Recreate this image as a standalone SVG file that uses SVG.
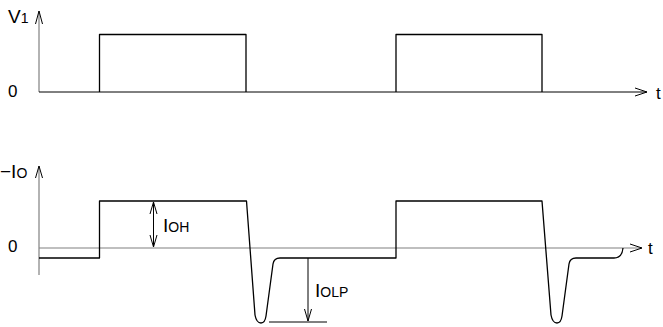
<svg xmlns="http://www.w3.org/2000/svg" width="663" height="327" viewBox="0 0 663 327">
<defs>
<style>
.sig{fill:none;stroke:#000;stroke-width:1.3;stroke-linejoin:round}
.ax{fill:none;stroke:#808080;stroke-width:1.2}
.axk{fill:none;stroke:#000;stroke-width:1}
.ah{fill:none;stroke:#000;stroke-width:1}
.dim{fill:none;stroke:#000;stroke-width:1}
text{font-family:"Liberation Sans",Arial,sans-serif;fill:#000}
.lb{font-size:19px}
.sub{font-size:14px}
.num{font-size:17px}
</style>
</defs>
<g id="connectors">
<line class="ax" x1="39" y1="11" x2="39" y2="92"/>
<polyline class="ah" points="35.5,24 39,11 42.5,24"/>
<line class="axk" x1="39" y1="92" x2="647" y2="92"/>
<polyline class="ah" points="635,88 647,92 635,96"/>
<line class="ax" x1="39" y1="166" x2="39" y2="275"/>
<polyline class="ah" points="35.5,178 39,166 42.5,178"/>
<line class="ax" x1="39" y1="248" x2="642" y2="248"/>
<polyline class="ah" points="630,244 642,248 630,252"/>
<line class="dim" x1="153.5" y1="202" x2="153.5" y2="247"/>
<polyline class="ah" points="150,214 153.5,202 157,214"/>
<polyline class="ah" points="150,235 153.5,247 157,235"/>
<line class="dim" x1="308" y1="258" x2="308" y2="321"/>
<polyline class="ah" points="304.5,309 308,321 311.5,309"/>
<line class="dim" x1="269" y1="322" x2="327" y2="322"/>
</g>
<g id="v1-signal">
<polyline class="sig" points="99.5,92 99.5,34.5 246,34.5 246,92"/>
<polyline class="sig" points="396,92 396,34.5 542,34.5 542,92"/>
</g>
<g id="io-signal">
<path class="sig" d="M39,258 H99.5 V201 H246.5 L255,315 Q256.5,323 261,323 Q265,323 266,316 L273,264 Q274,258 280,258 H396 V201 H542 L551,315 Q552.5,323 557,323 Q561,323 562,316 L569,264 Q570,258 576,258 H614 Q622,258 623,248"/>
</g>
<g id="labels">
<text class="lb" x="8" y="23">V<tspan class="sub">1</tspan></text>
<text class="num" x="8" y="97">0</text>
<text class="lb" x="0" y="178">−I<tspan class="sub">O</tspan></text>
<text class="num" x="8" y="252">0</text>
<text class="lb" x="163" y="232">I<tspan class="sub">OH</tspan></text>
<text class="lb" x="315" y="297">I<tspan class="sub">OLP</tspan></text>
<text class="num" x="656" y="99">t</text>
<text class="num" x="648" y="254">t</text>
</g>
</svg>
